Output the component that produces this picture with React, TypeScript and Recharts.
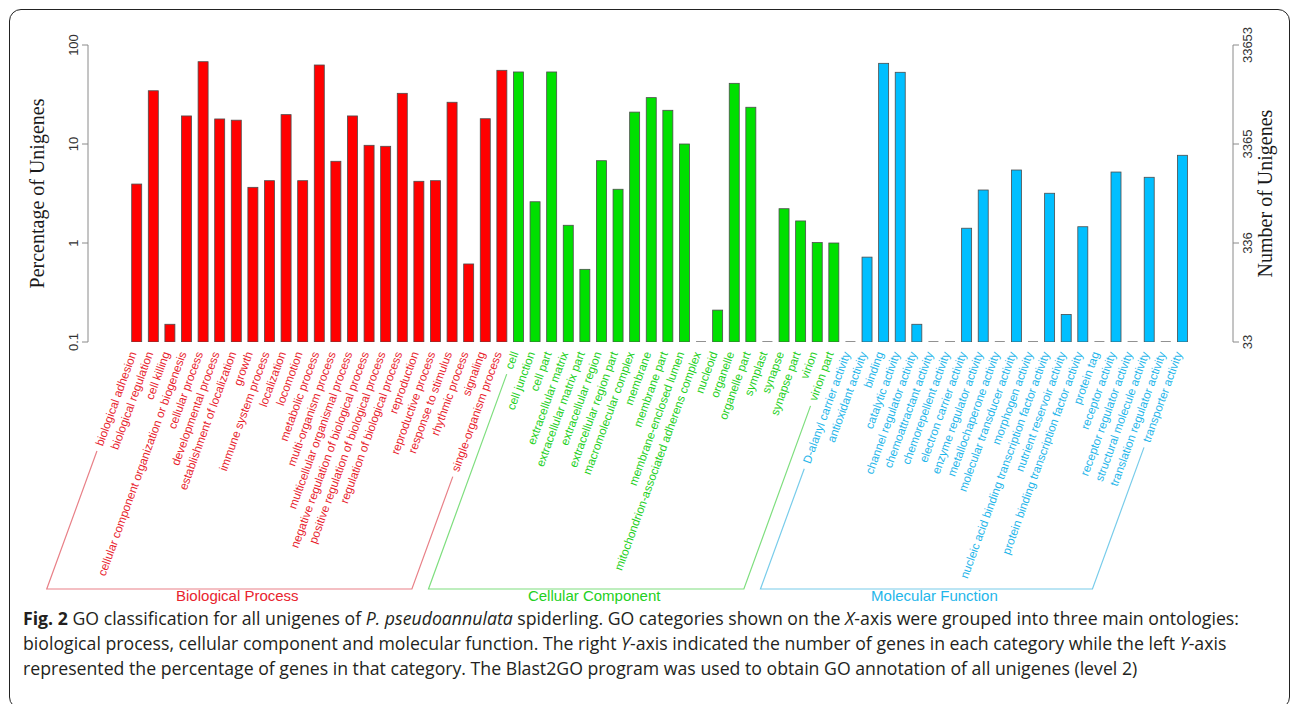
import { Bar, BarChart, Label, XAxis, YAxis } from "recharts";

// GO level-2 categories, values read as % of unigenes (0 = none, drawn as a dash)
const bpNames = [
  "biological adhesion",
  "biological regulation",
  "cell killing",
  "cellular component organization or biogenesis",
  "cellular process",
  "developmental process",
  "establishment of localization",
  "growth",
  "immune system process",
  "localization",
  "locomotion",
  "metabolic process",
  "multi-organism process",
  "multicellular organismal process",
  "negative regulation of biological process",
  "positive regulation of biological process",
  "regulation of biological process",
  "reproduction",
  "reproductive process",
  "response to stimulus",
  "rhythmic process",
  "signaling",
  "single-organism process",
];
const bpValues = [
  3.94, 34.5, 0.151, 19.2, 67.8, 17.9, 17.4, 3.65, 4.26, 19.8, 4.26, 62.8, 6.69, 19.2, 9.7, 9.48,
  32.5, 4.2, 4.26, 26.4, 0.614, 18.0, 55.5,
];

const ccNames = [
  "cell",
  "cell junction",
  "cell part",
  "extracellular matrix",
  "extracellular matrix part",
  "extracellular region",
  "extracellular region part",
  "macromolecular complex",
  "membrane",
  "membrane part",
  "membrane-enclosed lumen",
  "mitochondrion-associated adherens complex",
  "nucleoid",
  "organelle",
  "organelle part",
  "symplast",
  "synapse",
  "synapse part",
  "virion",
  "virion part",
];
const ccValues = [
  53.4, 2.61, 53.4, 1.51, 0.542, 6.78, 3.49, 21.0, 29.4, 21.9, 10.0, 0, 0.21, 41.0, 23.5, 0, 2.22,
  1.67, 1.01, 1.0,
];

const mfNames = [
  "D-alanyl carrier activity",
  "antioxidant activity",
  "binding",
  "catalytic activity",
  "channel regulator activity",
  "chemoattractant activity",
  "chemorepellent activity",
  "electron carrier activity",
  "enzyme regulator activity",
  "metallochaperone activity",
  "molecular transducer activity",
  "morphogen activity",
  "nucleic acid binding transcription factor activity",
  "nutrient reservoir activity",
  "protein binding transcription factor activity",
  "protein tag",
  "receptor activity",
  "receptor regulator activity",
  "structural molecule activity",
  "translation regulator activity",
  "transporter activity",
];
const mfValues = [
  0, 0.72, 65.3, 53.0, 0.151, 0, 0, 1.41, 3.43, 0, 5.46, 0, 3.18, 0.19, 1.46, 0, 5.21, 0, 4.61, 0,
  7.69,
];

const pctTicks = [0.1, 1, 10, 100];
const pctLabels = ["0.1", "1", "10", "100"];
const countLabels = ["33", "336", "3365", "33653"];

const groups = [
  { name: "Biological Process", fill: "#ff0000", text: "#e8232e", line: "rgba(220,60,70,0.65)" },
  { name: "Cellular Component", fill: "#00e000", text: "#22d022", line: "rgba(40,200,40,0.6)" },
  { name: "Molecular Function", fill: "#00bfff", text: "#1fb6ea", line: "rgba(30,170,220,0.6)" },
];

const rows = [
  ...bpNames.map((name, i) => ({ name, value: bpValues[i], group: 0 })),
  ...ccNames.map((name, i) => ({ name, value: ccValues[i], group: 1 })),
  ...mfNames.map((name, i) => ({ name, value: mfValues[i], group: 2 })),
];
const groupStart = [0, bpNames.length, bpNames.length + ccNames.length];
const groupEnd = [bpNames.length - 1, bpNames.length + ccNames.length - 1, rows.length - 1];

const PCT_MIN = 0.1;
const LABEL_FONT = '"Liberation Sans", Arial, sans-serif';
const LABEL_SIZE = 11.7;
const ANG = (70 * Math.PI) / 180;
const COS = Math.cos(ANG);
const SIN = Math.sin(ANG);
const BRACKET_Y = 589;
const LEG_GAP = 6;

let ctx: CanvasRenderingContext2D | null = null;
const measure = (s: string) => {
  if (!ctx) ctx = document.createElement("canvas").getContext("2d");
  if (!ctx) return s.length * 5.6;
  ctx.font = `${LABEL_SIZE}px ${LABEL_FONT}`;
  return ctx.measureText(s).width;
};

const GoBar = (props: any) => {
  const { x, y, width, height, payload } = props;
  const g = groups[payload.group];
  if (!(payload.value > 0)) {
    return (
      <line x1={x} x2={x + width} y1={y + height} y2={y + height} stroke="#555" strokeWidth={1.3} />
    );
  }
  return (
    <rect x={x} y={y} width={width} height={height} fill={g.fill} stroke="#4d4d4d" strokeWidth={0.8} />
  );
};

const CategoryTick = (props: any) => {
  const { x, y, payload } = props;
  const index = payload.index ?? props.index;
  const row = rows[index];
  const g = groups[row.group];
  const ax = x - 4;
  const ay = y + 2;
  const label = (
    <text
      x={ax}
      y={ay}
      dy="0.35em"
      textAnchor="end"
      transform={`rotate(-70 ${ax} ${ay})`}
      fontSize={LABEL_SIZE}
      fontFamily={LABEL_FONT}
      fill={g.text}
    >
      {row.name}
    </text>
  );
  if (index !== groupEnd[row.group]) return label;

  // bracket for the whole group, drawn from the group's last tick
  const pitch = payload.offset ? payload.offset * 2 : 16.6;
  const first = groupStart[row.group];
  const fx = ax - (index - first) * pitch;
  const leg = (px: number, name: string) => {
    const t0 = measure(name) + LEG_GAP;
    const t1 = (BRACKET_Y - ay) / SIN;
    return { x0: px - t0 * COS, y0: ay + t0 * SIN, x1: px - t1 * COS };
  };
  const L = leg(fx, rows[first].name);
  const R = leg(ax, row.name);
  return (
    <g>
      {label}
      <polyline
        points={`${L.x0},${L.y0} ${L.x1},${BRACKET_Y} ${R.x1},${BRACKET_Y} ${R.x0},${R.y0}`}
        fill="none"
        stroke={g.line}
        strokeWidth={1.2}
      />
      <text
        x={(L.x1 + R.x1) / 2 + 8}
        y={601}
        textAnchor="middle"
        fontSize={15}
        fontFamily={LABEL_FONT}
        fill={g.text}
      >
        {g.name}
      </text>
    </g>
  );
};

const PctTick = (props: any) => {
  const { x, y, payload } = props;
  const cx = x - 7;
  const i = pctTicks.indexOf(payload.value);
  return (
    <text
      x={cx}
      y={y}
      dy="0.35em"
      textAnchor="middle"
      transform={`rotate(-90 ${cx} ${y})`}
      fontSize={13}
      fontFamily={LABEL_FONT}
      fill="#333"
    >
      {pctLabels[i]}
    </text>
  );
};

const CountTick = (props: any) => {
  const { x, y, payload } = props;
  const cx = x + 6;
  const i = pctTicks.indexOf(payload.value);
  return (
    <text
      x={cx}
      y={y}
      dy="0.35em"
      textAnchor="middle"
      transform={`rotate(-90 ${cx} ${y})`}
      fontSize={13}
      fontFamily={LABEL_FONT}
      fill="#333"
    >
      {countLabels[i]}
    </text>
  );
};

const axisTitle = (text: string, dx: number) => (p: any) => {
  const vb = p.viewBox;
  const cx = vb.x + dx;
  const cy = vb.y + vb.height / 2;
  return (
    <text
      x={cx}
      y={cy}
      dy="0.35em"
      textAnchor="middle"
      transform={`rotate(-90 ${cx} ${cy})`}
      fontSize={20}
      fontFamily='"Liberation Serif", "Times New Roman", serif'
      fill="#1a1a1a"
    >
      {text}
    </text>
  );
};

const captionLine = (top: number): React.CSSProperties => ({
  position: "absolute",
  left: 23,
  top,
  fontFamily: '"Open Sans", sans-serif',
  fontSize: 17.7,
  lineHeight: "20px",
  color: "#231f20",
  whiteSpace: "nowrap",
});

export default function App() {
  return (
    <div style={{ position: "absolute", left: 0, top: 0, width: 1292, height: 704, overflow: "hidden", background: "#fff" }}>
      <div
        style={{
          position: "absolute",
          left: 9,
          top: 9,
          width: 1281,
          height: 700,
          border: "1.5px solid #222",
          borderRadius: 12,
          boxSizing: "border-box",
        }}
      />
      <div style={{ position: "absolute", left: 0, top: 0 }}>
        <BarChart
          width={1292}
          height={704}
          data={rows}
          margin={{ top: 45, right: 9, bottom: 62, left: 28 }}
          barSize={10}
        >
          <XAxis
            dataKey="name"
            interval={0}
            tickLine={false}
            axisLine={false}
            tickSize={0}
            tickMargin={8}
            height={300}
            padding={{ left: 40.7, right: 42 }}
            tick={CategoryTick}
          />
          <YAxis
            yAxisId="pct"
            scale="log"
            domain={[0.1, 100]}
            ticks={pctTicks}
            allowDataOverflow
            width={60}
            tickSize={6}
            tickMargin={2}
            stroke="#8a8a8a"
            tick={PctTick}
          >
            <Label content={axisTitle("Percentage of Unigenes", 9)} />
          </YAxis>
          <YAxis
            yAxisId="count"
            orientation="right"
            scale="log"
            domain={[0.1, 100]}
            ticks={pctTicks}
            allowDataOverflow
            width={50}
            tickSize={6}
            tickMargin={2}
            stroke="#8a8a8a"
            tick={CountTick}
          >
            <Label content={axisTitle("Number of Unigenes", 32)} />
          </YAxis>
          <Bar
            yAxisId="pct"
            dataKey={(d: any) => (d.value > 0 ? d.value : PCT_MIN)}
            shape={GoBar}
            isAnimationActive={false}
          />
        </BarChart>
      </div>
      <div style={captionLine(608)}>
        <b>Fig. 2</b> GO classification for all unigenes of <i>P. pseudoannulata</i> spiderling. GO
        categories shown on the <i>X</i>-axis were grouped into three main ontologies:
      </div>
      <div style={captionLine(633)}>
        biological process, cellular component and molecular function. The right <i>Y</i>-axis
        indicated the number of genes in each category while the left <i>Y</i>-axis
      </div>
      <div style={captionLine(658)}>
        represented the percentage of genes in that category. The Blast2GO program was used to obtain
        GO annotation of all unigenes (level 2)
      </div>
    </div>
  );
}
